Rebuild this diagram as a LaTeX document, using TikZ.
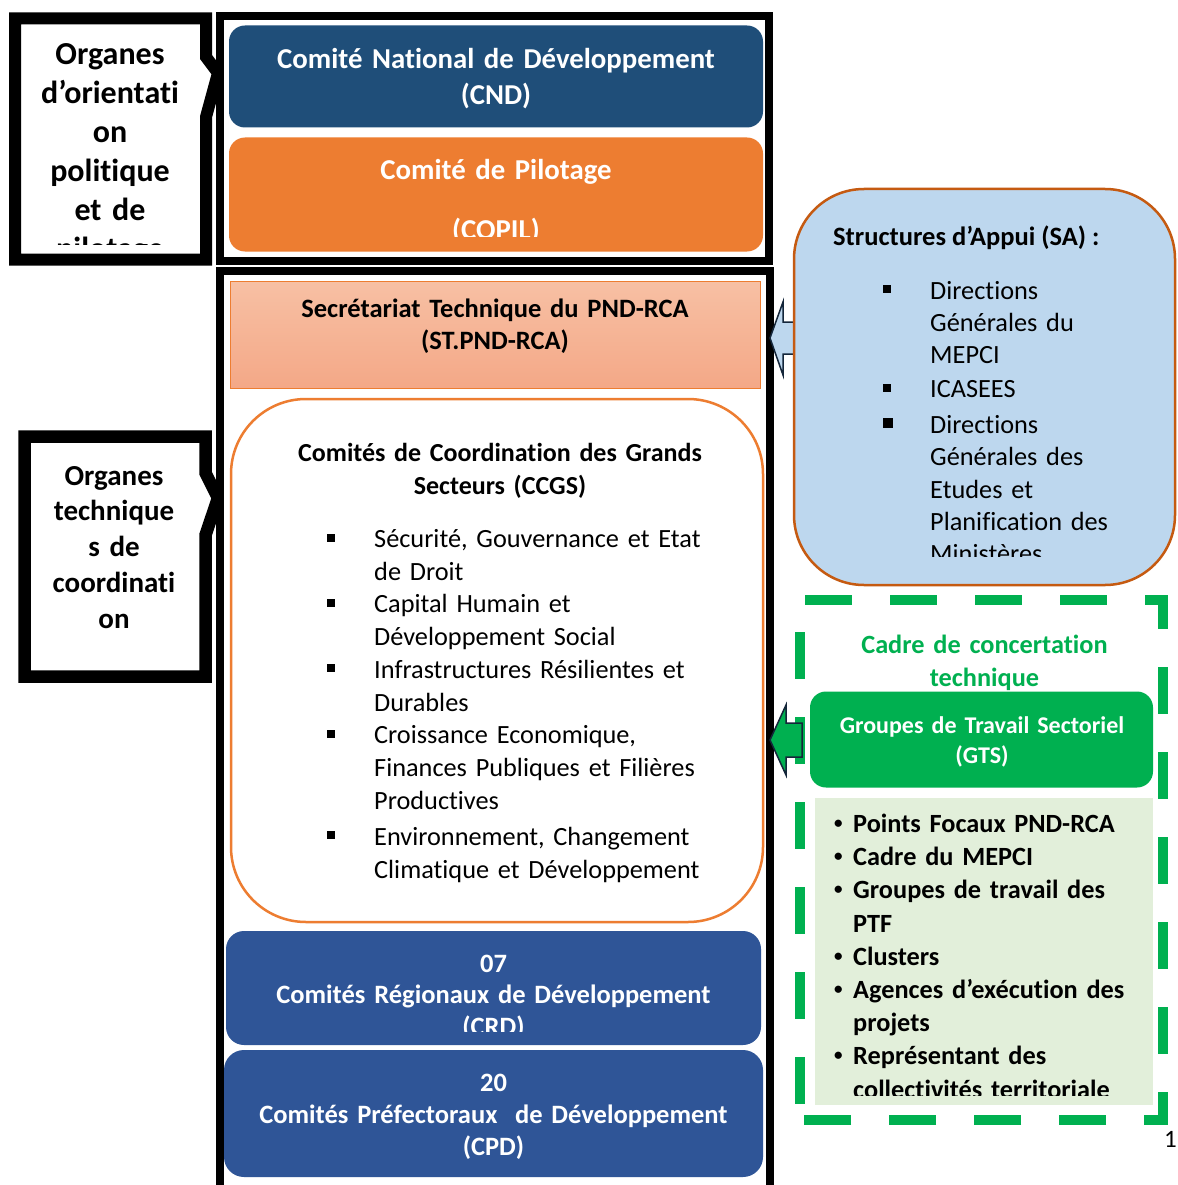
\documentclass[tikz,border=0pt]{standalone}
\usepackage{fontspec}
\setmainfont{Carlito}[Ligatures=NoCommon]
\definecolor{cndblue}{HTML}{1F4E79}
\definecolor{copilor}{HTML}{ED7D31}
\definecolor{sttop}{HTML}{F7C0A4}
\definecolor{stbot}{HTML}{F4A887}
\definecolor{crdblue}{HTML}{2F5597}
\definecolor{sablue}{HTML}{BDD7EE}
\definecolor{sabord}{HTML}{C55A11}
\definecolor{gtsgreen}{HTML}{00B050}
\definecolor{lgreen}{HTML}{E2EFDA}
\definecolor{navyline}{HTML}{14263A}
\newcommand{\myfs}[2]{\fontsize{#1pt}{#2pt}\selectfont}
\newcommand{\sqbul}{\makebox[47pt][l]{\rule[6pt]{8pt}{8pt}}}
\newcommand{\sqbig}{\makebox[47pt][l]{\rule[5pt]{10pt}{10pt}}}
\newcommand{\sqind}{\hspace*{47pt}}
\newcommand{\gbul}{\makebox[21pt][l]{\hspace{2pt}\raisebox{4pt}{\fontsize{17pt}{17pt}\selectfont\textbullet}}}
\newcommand{\gind}{\hspace*{21pt}}
\tikzset{
  orgbox/.style={draw=black, fill=white, line join=miter},
  frameb/.style={draw=black, fill=white, line width=8pt},
  rbox/.style={inner sep=0pt, outer sep=0pt},
  ctext/.style={inner sep=0pt, text width=#1, align=center, anchor=base},
  ltext/.style={inner sep=0pt, text width=#1, align=left, anchor=base west},
  barrow/.style={draw=navyline, line width=1.5pt, line join=miter},
  gdash/.style={draw=gtsgreen, line width=10pt, dash pattern=on 47pt off 38pt},
}
\begin{document}
\begin{tikzpicture}[x=1pt,y=-1pt]
\useasboundingbox (0,0) rectangle (1177,1185);
\fill[white] (0,0) rectangle (1177,1185);

% left callouts
\draw[orgbox, line width=12pt] (15,18.5) -- (206,18.5) -- (206,57) -- (218,73) -- (206,117) -- (206,259.5) -- (15,259.5) -- cycle;
\draw[orgbox, line width=12.5pt] (24.5,436.5) -- (205.5,436.5) -- (205.5,473) -- (218,498) -- (205.5,535) -- (205.5,676.5) -- (24.5,676.5) -- cycle;

% frames
\draw[frameb] (220,16.5) rectangle (769,261.3);
\draw[frameb] (220,271) rectangle (770,1200);

% boxes in frames
\node[rbox, fill=cndblue, minimum width=534pt, minimum height=102pt, rounded corners=16pt] (cnd) at (496,76.5) {};
\node[rbox, fill=copilor, minimum width=534pt, minimum height=114pt, rounded corners=16pt] (copil) at (496,194.5) {};
\node[rbox, draw=copilor, line width=1pt, top color=sttop, bottom color=stbot, minimum width=530pt, minimum height=107pt] (st) at (495,334.5) {};
\node[rbox, draw=copilor, line width=2.5pt, fill=white, minimum width=532pt, minimum height=523pt, rounded corners=75pt] (ccgs) at (497,660.5) {};
\node[rbox, fill=crdblue, minimum width=535pt, minimum height=114pt, rounded corners=18pt] (crd) at (493.5,988) {};
\node[rbox, fill=crdblue, minimum width=539pt, minimum height=127pt, rounded corners=20pt] (cpd) at (493.5,1113.5) {};

% arrow from SA
\coordinate (satip) at (770,338);
\draw[barrow, fill=sablue] (satip) -- (783,302) -- (783,322) -- (797,322) -- (797,354) -- (783,354) -- (783,375) -- cycle;

% SA box
\node[rbox, draw=sabord, line width=2.5pt, fill=sablue, minimum width=381pt, minimum height=396pt, rounded corners=70pt] (sa) at (984.5,387) {};

% dashed frame
\draw[gdash, dash phase=80pt] (800,600) -- (1163,600) -- (1163,1120) -- (800,1120);
\draw[gdash, dash phase=53pt] (800,600) -- (800,1120);

% green arrow
\coordinate (gtstip) at (770,740);
\draw[barrow, fill=gtsgreen] (gtstip) -- (786,705) -- (786,723) -- (802,723) -- (802,757) -- (786,757) -- (786,775) -- cycle;

\node[rbox, fill=gtsgreen, minimum width=343pt, minimum height=96pt, rounded corners=16pt] (gts) at (981.5,739.5) {};
\node[rbox, fill=lgreen, minimum width=338pt, minimum height=307pt] (pf) at (984,951.5) {};

% texts
\begin{scope}
\clip (21,25) rectangle (200,244);
\node[ctext=180pt, font=\bfseries\myfs{32}{39}] (org1t) at (110,65) {Organes\\d’orientati\\on\\politique\\et de\\pilotage};
\end{scope}
\node[ctext=180pt, font=\bfseries\myfs{29}{35.8}] (org2t) at (114,485) {Organes\\technique\\s de\\coordinati\\on};

\node[ctext=520pt, font=\bfseries\myfs{28.8}{36.5}, text=white] (cndt) at (496,68.3) {Comité National de Développement\\(CND)};
\begin{scope}
\clip (229,130) rectangle (763,236);
\node[ctext=520pt, font=\bfseries\myfs{28.8}{59}, text=white] (copilt) at (496,180) {Comité de Pilotage\\(COPIL)};
\end{scope}
\node[ctext=520pt, font=\bfseries\myfs{26.5}{32}] (stt) at (495,317.5) {Secrétariat Technique du PND-RCA\\(ST.PND-RCA)};
\node[ctext=520pt, font=\bfseries\myfs{26}{33}] (ccgst) at (500,461.5) {Comités de Coordination des Grands\\Secteurs (CCGS)};
\node[ltext=420pt, font=\myfs{26.3}{32.7}] (ccgsl) at (327,547.5) {\sqbul Sécurité, Gouvernance et Etat\\\sqind de Droit\\\sqbul Capital Humain et\\\sqind Développement Social\\\sqbul Infrastructures Résilientes et\\\sqind Durables\\\sqbul Croissance Economique,\\\sqind Finances Publiques et Filières\\\sqind Productives\\[3.5pt]\sqbul Environnement, Changement\\\sqind Climatique et Développement};

\begin{scope}
\clip (226,925) rectangle (761,1031);
\node[ctext=530pt, font=\bfseries\myfs{26.5}{31.5}, text=white] (crdt) at (493.5,972) {07\\Comités Régionaux de Développement\\(CRD)};
\end{scope}
\node[ctext=530pt, font=\bfseries\myfs{26.5}{32.3}, text=white] (cpdt) at (493.5,1091) {20\\Comités Préfectoraux\ \ de Développement\\(CPD)};

\node[anchor=base west, inner sep=0pt, font=\bfseries\myfs{26.5}{32}] (sat) at (833,245.5) {Structures d’Appui (SA) :};
\begin{scope}
\clip (800,270) rectangle (1170,556);
\node[ltext=280pt, font=\myfs{26.3}{32.3}] (sal) at (883,299) {\sqbul Directions\\\sqind Générales du\\\sqind MEPCI\\[1.7pt]\sqbul ICASEES\\[3.5pt]\sqbig Directions\\\sqind Générales des\\\sqind Etudes et\\\sqind Planification des\\\sqind Ministères};
\end{scope}

\node[ctext=340pt, font=\bfseries\myfs{26.3}{33}, text=gtsgreen] (cadre) at (984.5,653.5) {Cadre de concertation\\technique};
\node[ctext=340pt, font=\bfseries\myfs{24}{30}, text=white] (gtst) at (982,733) {Groupes de Travail Sectoriel\\(GTS)};
\begin{scope}
\clip (815,798) rectangle (1153,1095);
\node[ltext=320pt, font=\bfseries\myfs{26.3}{33.2}] (pft) at (832,832.5) {\gbul Points Focaux PND-RCA\\\gbul Cadre du MEPCI\\\gbul Groupes de travail des\\\gind PTF\\\gbul Clusters\\\gbul Agences d’exécution des\\\gind projets\\\gbul Représentant des\\\gind collectivités territoriale};
\end{scope}

\node[anchor=base west, inner sep=0pt, font=\myfs{25}{30}] (pgnum) at (1164,1147) {1};
\end{tikzpicture}
\end{document}
